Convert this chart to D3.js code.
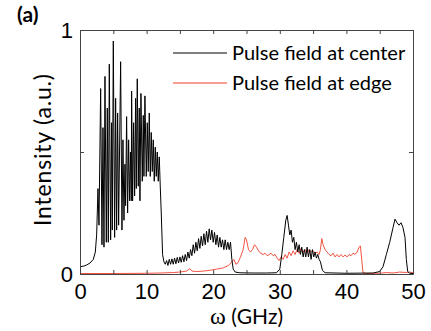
<!DOCTYPE html>
<html>
<head>
<meta charset="utf-8">
<script src="https://cdn.jsdelivr.net/npm/d3@7"></script>
<style>
  body { margin: 0; background: #fff; }
  svg { display: block; font-family: Lato, "Liberation Sans", sans-serif; }
</style>
</head>
<body>
<svg></svg>
<script>
const width = 431;
const height = 331;
const margin = { top: 30, right: 18, bottom: 57, left: 80 };

// Spectrum at the center of the pulse: [omega (GHz), intensity]
const centerData = [
  [0, 0.03], [0.5, 0.032], [1, 0.037], [1.5, 0.045], [2, 0.06], [2.3, 0.09], [2.5, 0.16], [2.7, 0.35], [2.85, 0.2],
  [3.1, 0.76], [3.3, 0.12], [3.45, 0.6], [3.6, 0.11], [3.75, 0.81], [3.95, 0.13], [4.1, 0.68], [4.25, 0.13],
  [4.4, 0.86], [4.6, 0.14], [4.75, 0.62], [4.85, 0.18], [5.0, 0.955], [5.2, 0.15], [5.35, 0.72], [5.5, 0.18],
  [5.65, 0.66], [5.8, 0.2], [6.1, 0.87], [6.3, 0.18], [6.45, 0.55], [6.6, 0.22], [6.75, 0.45], [6.85, 0.28],
  [7.0, 0.645], [7.15, 0.25], [7.3, 0.55], [7.45, 0.3], [7.6, 0.5], [7.7, 0.3], [7.75, 0.75], [7.9, 0.3],
  [8.05, 0.62], [8.2, 0.32], [8.35, 0.72], [8.45, 0.35], [8.6, 0.8], [8.75, 0.36], [8.9, 0.68], [9.0, 0.3],
  [9.15, 0.74], [9.35, 0.38], [9.5, 0.65], [9.6, 0.4], [9.75, 0.73], [9.95, 0.4], [10.1, 0.62], [10.25, 0.42],
  [10.4, 0.66], [10.55, 0.4], [10.7, 0.58], [10.85, 0.42], [11.0, 0.55], [11.15, 0.38], [11.3, 0.52],
  [11.45, 0.4], [11.6, 0.5], [11.75, 0.38], [11.9, 0.48], [12.05, 0.36], [12.2, 0.25], [12.4, 0.08], [12.6, 0.05], [12.8, 0.04],
  [13.0, 0.055], [13.2, 0.035], [13.4, 0.06], [13.6, 0.04], [13.8, 0.062], [14.0, 0.04], [14.2, 0.065],
  [14.4, 0.042], [14.6, 0.068], [14.8, 0.045], [15.0, 0.07], [15.2, 0.048], [15.4, 0.075], [15.6, 0.05],
  [15.8, 0.08], [16.0, 0.055], [16.2, 0.09], [16.4, 0.065], [16.6, 0.1], [16.8, 0.075], [17.0, 0.12],
  [17.2, 0.085], [17.4, 0.13], [17.6, 0.095], [17.8, 0.145], [18.0, 0.105], [18.2, 0.155], [18.4, 0.115],
  [18.6, 0.165], [18.8, 0.12], [19.0, 0.175], [19.2, 0.13], [19.4, 0.185], [19.6, 0.14], [19.8, 0.18],
  [20.0, 0.13], [20.2, 0.17], [20.4, 0.12], [20.6, 0.16], [20.8, 0.11], [21.0, 0.15], [21.2, 0.11],
  [21.4, 0.14], [21.6, 0.1], [21.8, 0.14], [22.0, 0.1], [22.2, 0.13], [22.4, 0.1], [22.6, 0.13],
  [22.8, 0.06], [23.0, 0.02], [23.3, 0.008], [24, 0.005], [26, 0.004], [28, 0.004], [29.5, 0.005],
  [30, 0.02], [30.3, 0.08], [30.6, 0.15], [30.9, 0.22], [31.1, 0.24], [31.3, 0.2], [31.5, 0.16], [31.7, 0.18],
  [31.9, 0.13], [32.1, 0.15], [32.3, 0.1], [32.5, 0.13], [32.7, 0.09], [32.9, 0.12], [33.1, 0.08], [33.3, 0.11],
  [33.5, 0.07], [33.7, 0.1], [33.9, 0.07], [34.1, 0.11], [34.3, 0.07], [34.5, 0.1], [34.7, 0.06], [34.9, 0.1],
  [35.1, 0.07], [35.3, 0.09], [35.5, 0.065], [35.7, 0.08], [35.9, 0.06], [36.1, 0.05], [36.4, 0.015],
  [36.8, 0.005], [40, 0.003], [44, 0.004], [45, 0.01], [45.5, 0.03], [46, 0.08], [46.5, 0.13], [47, 0.19],
  [47.3, 0.225], [47.6, 0.21], [47.9, 0.2], [48.2, 0.21], [48.5, 0.19], [48.8, 0.15], [49, 0.06], [49.2, 0.01],
  [49.5, 0.003], [50, 0.002]
];

// Spectrum at the edge of the pulse
const edgeData = [
  [0, 0.002], [5, 0.002], [10, 0.003], [12, 0.004], [14, 0.006], [15, 0.008], [16, 0.012], [16.5, 0.022],
  [16.8, 0.012], [17.5, 0.01], [18.5, 0.012], [19.5, 0.015], [20.5, 0.02], [21.5, 0.025], [22.3, 0.035],
  [22.8, 0.05], [23.1, 0.06], [23.4, 0.04], [23.7, 0.045], [24.1, 0.07], [24.5, 0.1], [24.8, 0.15], [25.0, 0.14],
  [25.3, 0.1], [25.6, 0.09], [25.9, 0.1], [26.2, 0.12], [26.5, 0.11], [26.8, 0.095], [27.1, 0.085], [27.5, 0.08],
  [27.8, 0.085], [28.1, 0.075], [28.4, 0.08], [28.7, 0.085], [29.0, 0.075], [29.3, 0.08], [29.6, 0.065],
  [29.9, 0.055], [30.2, 0.07], [30.5, 0.06], [30.8, 0.08], [31.1, 0.065], [31.4, 0.09], [31.7, 0.075],
  [32.0, 0.095], [32.3, 0.08], [32.6, 0.1], [32.9, 0.085], [33.2, 0.105], [33.5, 0.09], [33.8, 0.1],
  [34.1, 0.085], [34.4, 0.1], [34.7, 0.09], [35.0, 0.095], [35.3, 0.085], [35.6, 0.09], [35.9, 0.08],
  [36.1, 0.1], [36.3, 0.145], [36.5, 0.12], [36.8, 0.1], [37.1, 0.09], [37.4, 0.08], [37.7, 0.075],
  [38.0, 0.085], [38.3, 0.07], [38.6, 0.08], [38.9, 0.07], [39.2, 0.08], [39.5, 0.07], [39.8, 0.078],
  [40.1, 0.07], [40.4, 0.08], [40.7, 0.075], [41.0, 0.085], [41.3, 0.08], [41.6, 0.09], [41.9, 0.11],
  [42.1, 0.115], [42.3, 0.06], [42.5, 0.005], [43, 0.002], [45, 0.003], [46, 0.006], [47, 0.004],
  [48, 0.008], [49, 0.006], [49.5, 0.008], [50, 0.005]
];

const xTickLabels = [0, 10, 20, 30, 40, 50];
const xMinorTicks = [5, 15, 25, 35, 45];
const yTickLabels = [0, 1];
const yMinorTicks = [0.5];
const seriesNames = ["Pulse field at center", "Pulse field at edge"];
const seriesColors = ["#000000", "#f0402e"];

const svg = d3.select("svg")
  .attr("width", width)
  .attr("height", height);

const x = d3.scaleLinear().domain([0, 50]).range([margin.left, width - margin.right]);
const y = d3.scaleLinear().domain([0, 1]).range([height - margin.bottom, margin.top]);

const line = d3.line()
  .x(d => x(d[0]))
  .y(d => y(d[1]));

// curves
svg.append("path")
  .datum(edgeData)
  .attr("fill", "none")
  .attr("stroke", seriesColors[1])
  .attr("stroke-width", 0.9)
  .attr("d", line);

svg.append("path")
  .datum(centerData)
  .attr("fill", "none")
  .attr("stroke", seriesColors[0])
  .attr("stroke-width", 1)
  .attr("d", line);

// axes, ticks point inward
const allX = xTickLabels.concat(xMinorTicks);
const allY = yTickLabels.concat(yMinorTicks);

svg.append("g")
  .attr("transform", `translate(0,${y(0)})`)
  .call(d3.axisBottom(x).tickValues(allX).tickSizeInner(-4).tickSizeOuter(0)
    .tickFormat(d => xTickLabels.includes(d) ? d : ""))
  .call(g => g.selectAll("text").attr("dy", null).attr("y", 25)
    .attr("font-size", 22).attr("fill", "#000"));

svg.append("g")
  .attr("transform", `translate(0,${y(1)})`)
  .call(d3.axisTop(x).tickValues(allX).tickSizeInner(-4).tickSizeOuter(0).tickFormat(""));

svg.append("g")
  .attr("transform", `translate(${x(0)},0)`)
  .call(d3.axisLeft(y).tickValues(allY).tickSizeInner(-4).tickSizeOuter(0)
    .tickFormat(d => yTickLabels.includes(d) ? d : ""))
  .call(g => g.selectAll("text").attr("x", -7).attr("font-size", 22).attr("fill", "#000"));

svg.append("g")
  .attr("transform", `translate(${x(50)},0)`)
  .call(d3.axisRight(y).tickValues(allY).tickSizeInner(-4).tickSizeOuter(0).tickFormat(""));

svg.selectAll(".domain").attr("stroke", "#444");
svg.selectAll(".tick line").attr("stroke", "#444");

// axis titles
const xTitle = svg.append("text")
  .attr("x", (x(0) + x(50)) / 2)
  .attr("y", 324)
  .attr("text-anchor", "middle")
  .attr("font-size", 21);
xTitle.append("tspan")
  .attr("font-family", "'Liberation Serif', serif")
  .attr("font-size", 24)
  .text("ω");
xTitle.append("tspan").text(" (GHz)");

svg.append("text")
  .attr("transform", "translate(51,150) rotate(-90)")
  .attr("text-anchor", "middle")
  .attr("font-size", 23)
  .attr("textLength", 152)
  .attr("lengthAdjust", "spacing")
  .text("Intensity (a.u.)");

svg.append("text")
  .attr("x", 17)
  .attr("y", 22)
  .attr("font-size", 21)
  .attr("font-weight", "bold")
  .text("(a)");

// legend
const legend = svg.append("g").attr("transform", "translate(173,53)");
seriesNames.forEach((name, i) => {
  legend.append("line")
    .attr("x1", 0).attr("x2", 54)
    .attr("y1", i * 30).attr("y2", i * 30)
    .attr("stroke", seriesColors[i])
    .attr("stroke-width", 1);
  legend.append("text")
    .attr("x", 59)
    .attr("y", i * 30 + 7)
    .attr("font-size", 20)
    .text(name);
});
</script>
</body>
</html>
